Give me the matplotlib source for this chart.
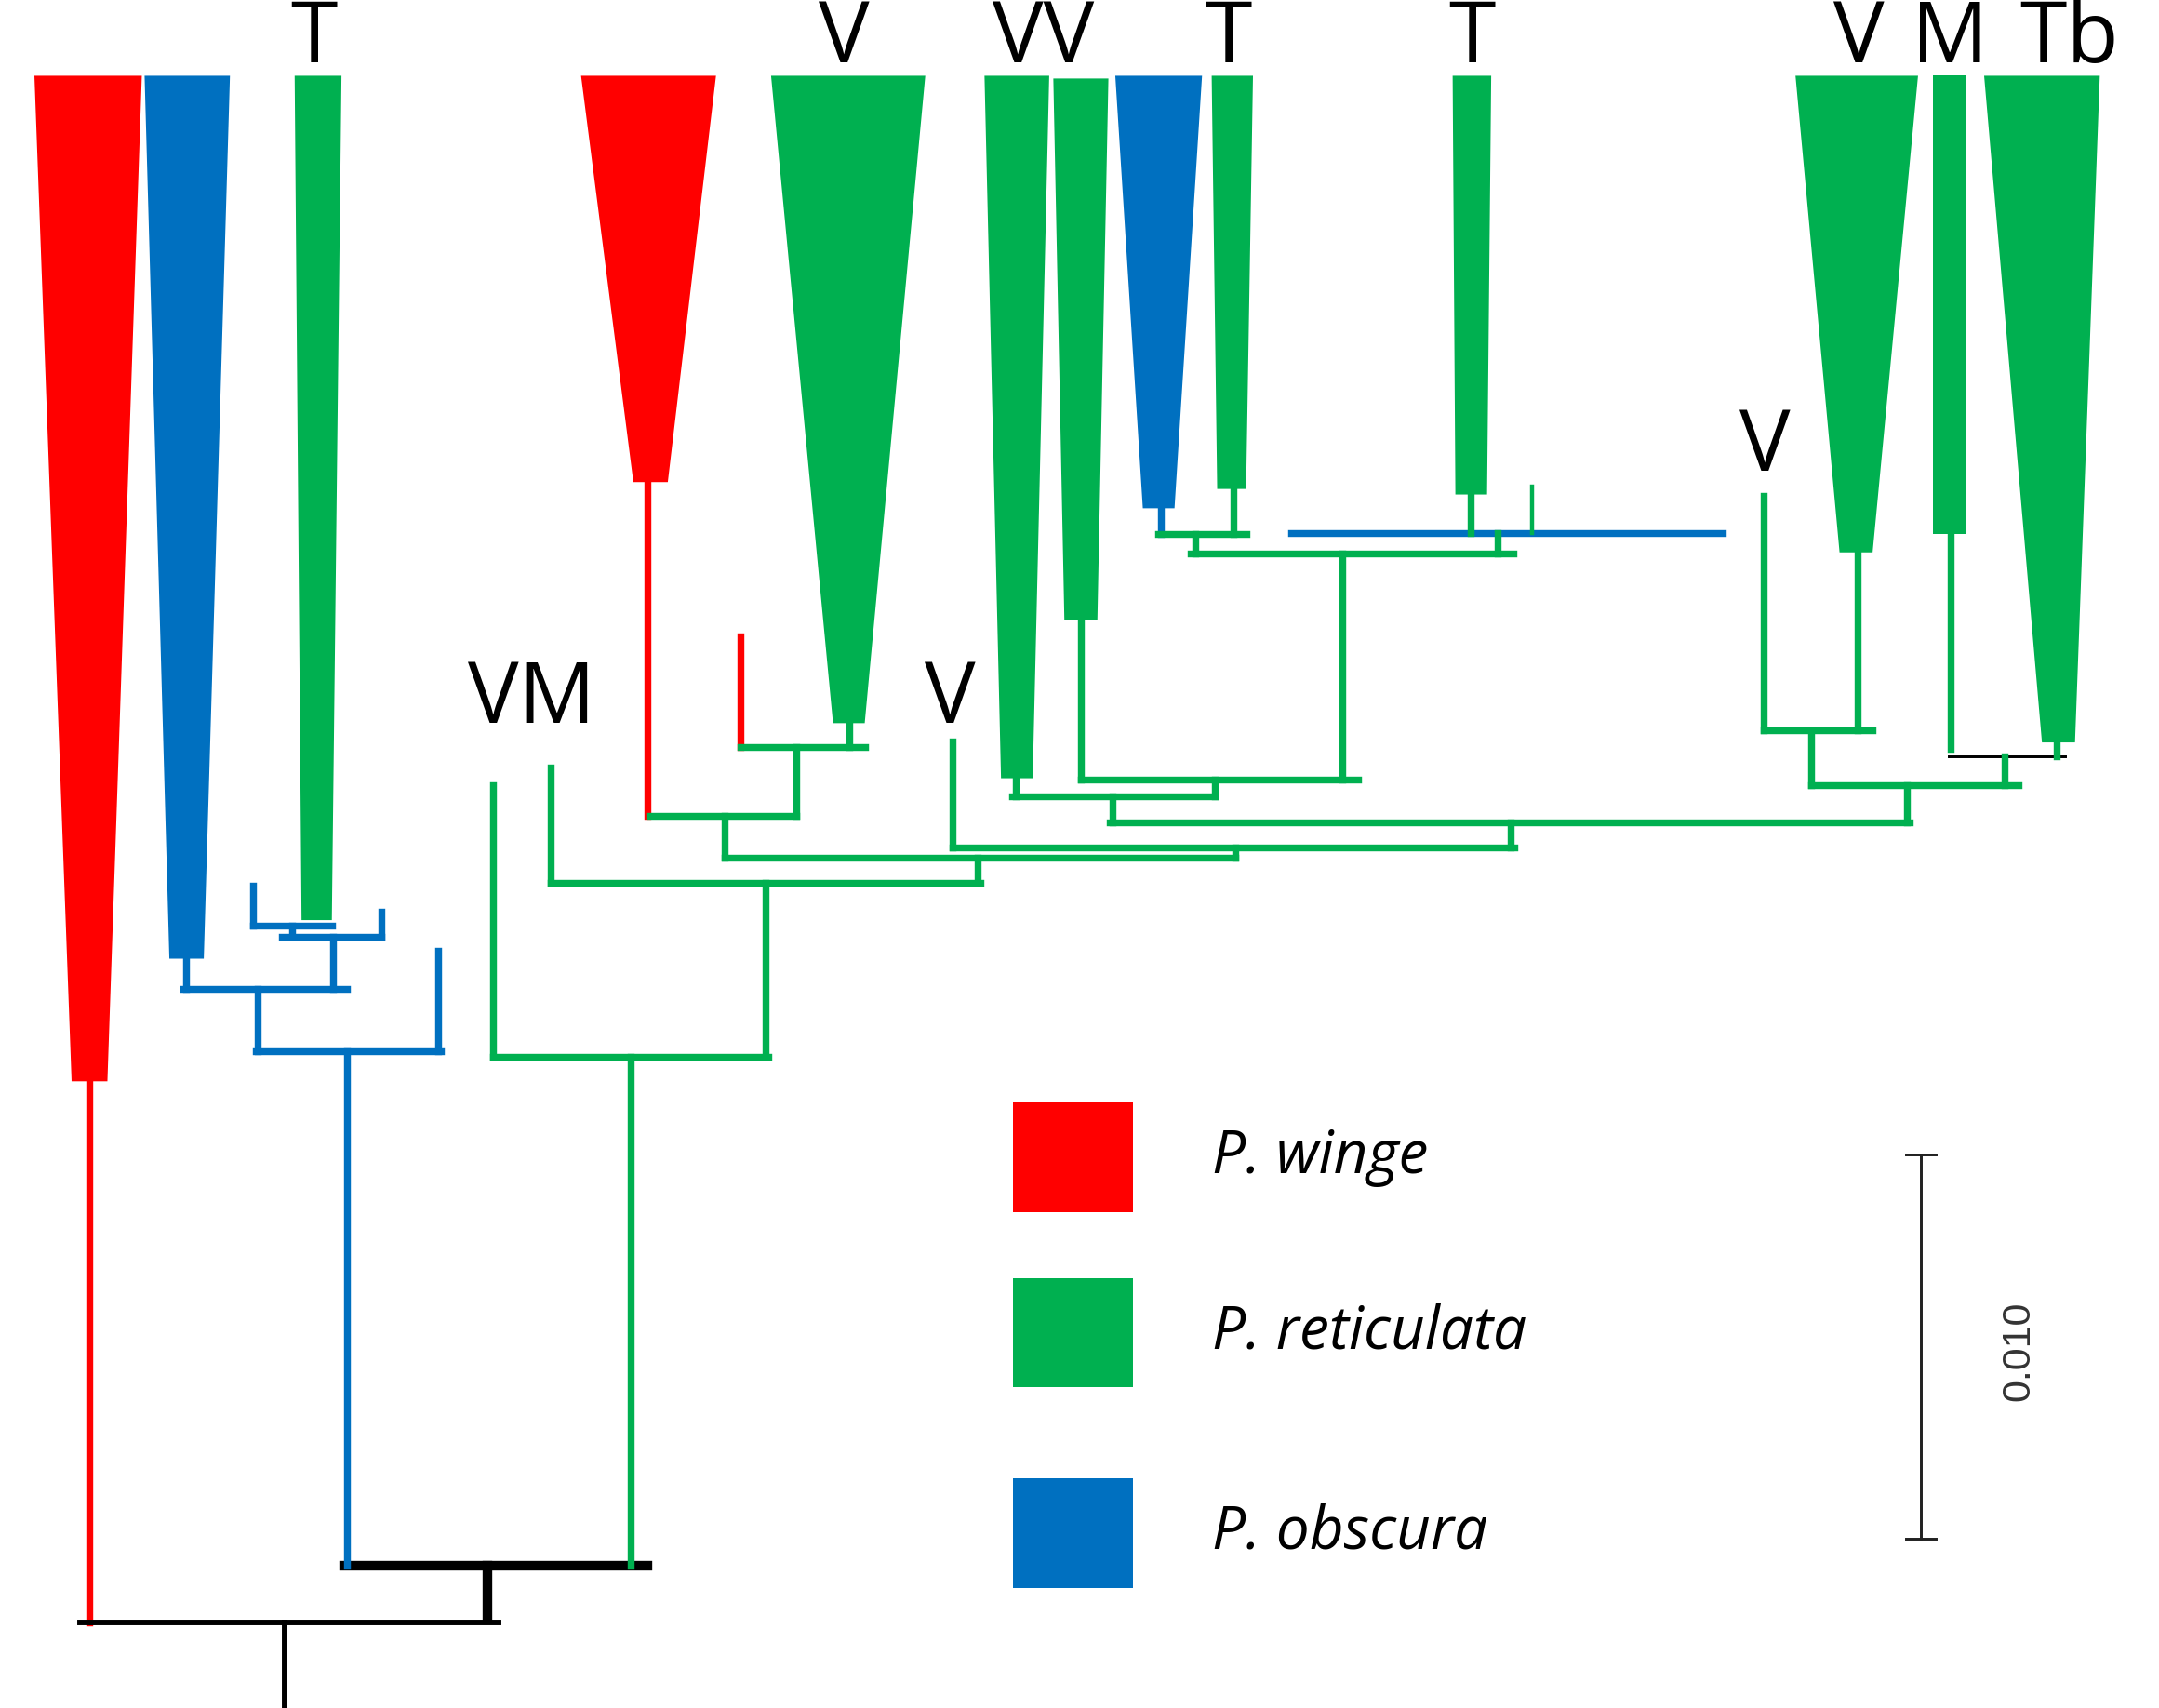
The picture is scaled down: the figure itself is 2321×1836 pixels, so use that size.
import matplotlib
matplotlib.use("Agg")
import matplotlib.pyplot as plt
from matplotlib.patches import Polygon, Rectangle

# ---------------- data (reference drawn in a 1568 x 1240 grid) ----------------
RED, GREEN, BLUE, BLACK = "#FF0000", "#00B050", "#0070C0", "#000000"

# collapsed clades: top-left, top-right, top-y, bottom-left, bottom-right, bottom-y, colour
clade_top_l = [25, 105, 214, 422, 560, 715, 765, 810, 880, 1055, 1304, 1404, 1441]
clade_top_r = [103, 167, 248, 520, 672, 762, 805, 873, 910, 1083, 1393, 1428, 1525]
clade_top_y = [55, 55, 55, 55, 55, 55, 57, 55, 55, 55, 55, 55, 55]
clade_bot_l = [52, 123, 219, 460, 605, 727, 773, 830, 884, 1057, 1336, 1404, 1483]
clade_bot_r = [78, 148, 241, 485, 628, 750, 797, 853, 905, 1080, 1360, 1428, 1507]
clade_bot_y = [785, 696, 668, 350, 525, 565, 450, 369, 355, 359, 401, 388, 539]
clade_col = [RED, BLUE, GREEN, RED, GREEN, GREEN, GREEN, BLUE, GREEN, GREEN, GREEN, GREEN, GREEN]

# tree branches (x0, y0, x1, y1) grouped by colour
red_branches = [(65, 785, 65, 1178), (470, 350, 470, 592), (538, 462, 538, 542)]
black_thin_branches = [(58, 1178, 362, 1178), (207, 1178, 207, 1240)]
black_thick_branches = [(250, 1137, 470, 1137), (354, 1137, 354, 1175)]
black_hair_branches = [(1415, 549, 1500, 549)]
blue_branches = [(135, 696, 135, 718), (133, 718, 252, 718), (242, 680, 242, 718),
                 (205, 680, 277, 680), (277, 662, 277, 680), (212, 672, 212, 680),
                 (184, 672, 241, 672), (184, 643, 184, 672), (187, 718, 187, 763),
                 (186, 763, 320, 763), (318, 690, 318, 763), (252, 763, 252, 1137),
                 (843, 369, 843, 388), (938, 387, 1251, 387)]
green_branches = [(458, 767, 458, 1137), (358, 767, 558, 767), (358, 570, 358, 767),
                  (556, 641, 556, 767), (400, 641, 712, 641), (400, 557, 400, 641),
                  (710, 623, 710, 641), (526, 623, 897, 623), (526, 592, 526, 623),
                  (472, 592, 578, 592), (578, 542, 578, 592), (538, 542, 628, 542),
                  (617, 525, 617, 542), (897, 615, 897, 623), (692, 615, 1100, 615),
                  (692, 538, 692, 615), (1097, 597, 1097, 615), (806, 597, 1387, 597),
                  (808, 578, 808, 597), (735, 578, 882, 578), (738, 565, 738, 578),
                  (882, 566, 882, 578), (785, 566, 986, 566), (785, 450, 785, 566),
                  (975, 402, 975, 566), (865, 402, 1099, 402), (868, 388, 868, 402),
                  (841, 388, 905, 388), (896, 355, 896, 388), (1088, 387, 1088, 402),
                  (1068, 359, 1068, 387), (1385, 570, 1385, 597), (1315, 570, 1466, 570),
                  (1315, 530, 1315, 570), (1281, 530, 1360, 530), (1281, 360, 1281, 530),
                  (1349, 401, 1349, 530), (1456, 549, 1456, 570), (1417, 388, 1417, 544),
                  (1494, 539, 1494, 549)]
green_thin_branches = [(1113, 353, 1113, 387)]

# clade labels
lab_text = ["T", "V", "VV", "T", "T", "V", "M", "Tb", "VM", "V", "V"]
lab_x = [228, 613, 758, 892, 1069, 1350, 1416, 1503, 386, 690, 1282]
lab_y = [45, 45, 45, 45, 45, 45, 45, 45, 525, 525, 342]

# legend
leg_names = ["P. winge", "P. reticulata", "P. obscura"]
leg_cols = [RED, GREEN, BLUE]
leg_top = [800, 928, 1073]
leg_bot = [880, 1007, 1153]

# scale bar
scale_label = "0.010"
scale_x, scale_y0, scale_y1 = 1395, 838, 1117

# ---------------- drawing ----------------
W, H = 1568, 1240
fig = plt.figure(figsize=(23.21, 18.36), dpi=100)
ax = fig.add_axes([0, 0, 1, 1])
ax.set_xlim(0, W)
ax.set_ylim(H, 0)
ax.axis("off")
U = 2321 / W * 72 / 100  # points per grid unit

for i in range(len(clade_col)):
    poly = Polygon([(clade_top_l[i], clade_top_y[i]), (clade_top_r[i], clade_top_y[i]),
                    (clade_bot_r[i], clade_bot_y[i]), (clade_bot_l[i], clade_bot_y[i])],
                   closed=True, facecolor=clade_col[i], edgecolor="none", zorder=2)
    ax.add_patch(poly)

groups = [(red_branches, RED, 5), (black_thin_branches, BLACK, 4),
          (black_thick_branches, BLACK, 7), (black_hair_branches, BLACK, 2),
          (blue_branches, BLUE, 5), (green_branches, GREEN, 5), (green_thin_branches, GREEN, 3)]
for segs, col, w in groups:
    for x0, y0, x1, y1 in segs:
        ax.plot([x0, x1], [y0, y1], color=col, lw=w * U, solid_capstyle="projecting", zorder=3)

for t, x, y in zip(lab_text, lab_x, lab_y):
    ax.text(x, y, t, ha="center", va="baseline", fontsize=66, family="Open Sans", color="black")

for name, c, t, b in zip(leg_names, leg_cols, leg_top, leg_bot):
    ax.add_patch(Rectangle((736, t), 823 - 736, b - t, facecolor=c, edgecolor="none"))
    ax.text(880, (t + b) / 2, name, ha="left", va="center", fontsize=46,
            family="Open Sans", style="italic", color="black")

ax.plot([scale_x, scale_x], [scale_y0, scale_y1], color="#222222", lw=2 * U)
for yy in (scale_y0, scale_y1):
    ax.plot([scale_x - 11, scale_x + 11], [yy, yy], color="#222222", lw=2 * U)
ax.text(1466, 981, scale_label, rotation=90, ha="center", va="center",
        fontsize=31, family="Liberation Sans", color="#333333")

fig.savefig("out.png", dpi=100)
